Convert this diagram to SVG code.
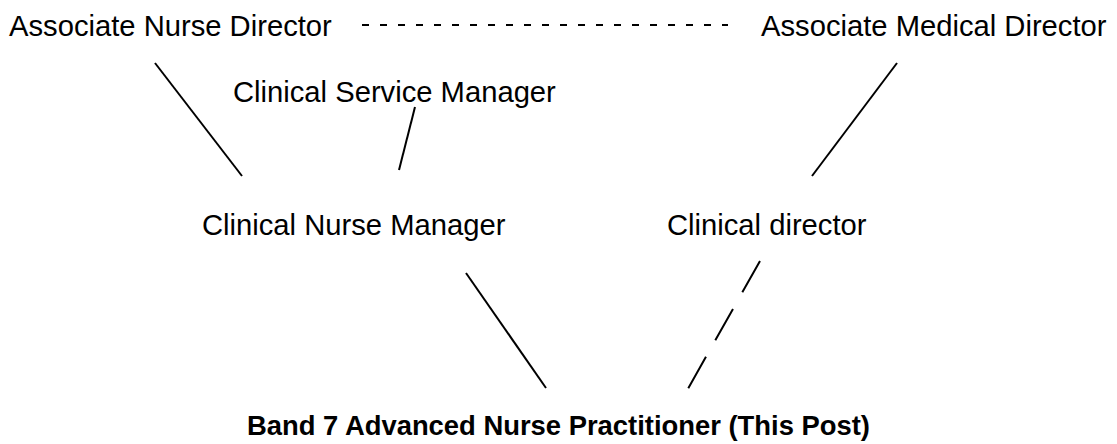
<svg xmlns="http://www.w3.org/2000/svg" width="1117" height="444" viewBox="0 0 1117 444">
  <style>
    .lbl { font-family: "Liberation Sans", Arial, sans-serif; font-size: 29.2px; fill: #000; }
    .post { font-family: "Liberation Sans", Arial, sans-serif; font-size: 28px; font-weight: bold; fill: #000; }
    .ln { stroke: #000; stroke-width: 2; fill: none; }
    .dash-h { stroke-dasharray: 7 11; }
    .dash-d { stroke-dasharray: 36 19; }
  </style>
  <rect width="1117" height="444" fill="#fff"/>

  <g id="associate-nurse-director">
    <text class="lbl" x="9" y="36">Associate Nurse Director</text>
  </g>
  <g id="associate-medical-director">
    <text class="lbl" x="761" y="36">Associate Medical Director</text>
  </g>
  <g id="clinical-service-manager">
    <text class="lbl" x="233" y="102">Clinical Service Manager</text>
  </g>
  <g id="clinical-nurse-manager">
    <text class="lbl" x="202" y="235">Clinical Nurse Manager</text>
  </g>
  <g id="clinical-director">
    <text class="lbl" x="667" y="235">Clinical director</text>
  </g>
  <g id="band7-anp">
    <text class="post" x="247" y="435" textLength="623" lengthAdjust="spacingAndGlyphs">Band 7 Advanced Nurse Practitioner (This Post)</text>
  </g>

  <g id="connectors">
    <line class="ln dash-h" x1="362" y1="25" x2="728" y2="25"/>
    <line class="ln" x1="155" y1="63" x2="242" y2="176"/>
    <line class="ln" x1="415" y1="107" x2="399" y2="170"/>
    <line class="ln" x1="897" y1="63" x2="812" y2="176"/>
    <line class="ln" x1="466" y1="273" x2="546" y2="388"/>
    <line class="ln dash-d" x1="760" y1="261" x2="685" y2="394"/>
  </g>
</svg>
